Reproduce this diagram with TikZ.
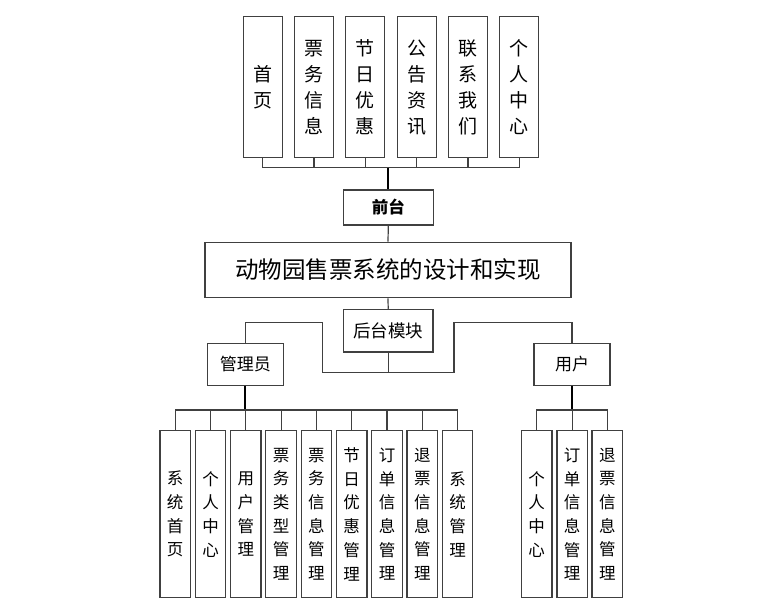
\documentclass[tikz,border=0pt]{standalone}
\usepackage{fontspec}
\setmainfont{Noto Sans CJK SC}
\usepackage{tikz}
\usetikzlibrary{positioning,calc}
\usepackage{xcolor}
\definecolor{edge}{RGB}{64,64,64}

\begin{document}
\begin{tikzpicture}[x=1pt,y=-1pt,
          tall/.style={draw=edge,line width=1.2pt,inner sep=0pt,minimum width=39,minimum height=141,
                       align=center,font=\fontsize{19}{26}\selectfont},
          slim/.style={draw=edge,line width=1.2pt,inner sep=0pt,minimum width=30.5,minimum height=167,
                       align=center,font=\fontsize{16.5}{23.7}\selectfont},
          wide/.style={draw=edge,line width=1.2pt,inner sep=0pt,align=center},
          link/.style={edge,line width=1.2pt},
          trunk/.style={black,line width=1.8pt}
      ]
        \useasboundingbox (0,0) rectangle (766,606);
        % front end
        \node[tall] (sy)   at (262.8,87.2) {首\\页};
        \node[tall] (pwxx) at (314.0,87.2) {票\\务\\信\\息};
        \node[tall] (jryh) at (365.3,87.2) {节\\日\\优\\惠};
        \node[tall] (ggzx) at (416.7,87.2) {公\\告\\资\\讯};
        \node[tall] (lxwm) at (468.0,87.2) {联\\系\\我\\们};
        \node[tall] (grzx) at (519.3,87.2) {个\\人\\中\\心};
        \node[wide,minimum width=90,minimum height=35,font=\fontsize{16.5}{20}\selectfont\bfseries] (qt) at (388.3,207.5) {前台};
        \node[wide,minimum width=366,minimum height=55.4,font=\fontsize{23.5}{28}\selectfont] (title) at (388,270) {动物园售票系统的设计和实现};
        % back end
        \node[wide,minimum width=89.7,minimum height=42.7,font=\fontsize{17.5}{20}\selectfont] (htmk) at (388.2,330.7) {后台模块};
        \node[wide,minimum width=76,minimum height=42,font=\fontsize{17}{20}\selectfont] (gly) at (245.3,364.3) {管理员};
        \node[wide,minimum width=76,minimum height=42,font=\fontsize{17}{20}\selectfont] (yh)  at (572.0,364.3) {用户};
        % admin modules
        \node[slim] (a1) at (175.2,514.2) {系\\统\\首\\页};
        \node[slim] (a2) at (210.5,514.2) {个\\人\\中\\心};
        \node[slim] (a3) at (245.8,514.2) {用\\户\\管\\理};
        \node[slim] (a4) at (281.1,514.2) {票\\务\\类\\型\\管\\理};
        \node[slim] (a5) at (316.4,514.2) {票\\务\\信\\息\\管\\理};
        \node[slim] (a6) at (351.7,514.2) {节\\日\\优\\惠\\管\\理};
        \node[slim] (a7) at (387.0,514.2) {订\\单\\信\\息\\管\\理};
        \node[slim] (a8) at (422.3,514.2) {退\\票\\信\\息\\管\\理};
        \node[slim] (a9) at (457.6,514.2) {系\\统\\管\\理};
        % user modules
        \node[slim] (u1) at (536.7,514.2) {个\\人\\中\\心};
        \node[slim] (u2) at (572.2,514.2) {订\\单\\信\\息\\管\\理};
        \node[slim] (u3) at (607.3,514.2) {退\\票\\信\\息\\管\\理};
        % junctions
        \coordinate (topbus) at (388.3,167.7);
        \coordinate (hbus)   at (388.2,372.7);
        \coordinate (lk)     at (322.7,322.3);
        \coordinate (rk)     at (454.0,322.3);
        \coordinate (abus)   at (245.3,410);
        \coordinate (ubus)   at (572.0,410);
        % connectors
        \draw[link] (sy.south) |- (grzx.south |- topbus) -- (grzx.south);
        \draw[link] (pwxx.south) -- (pwxx.south |- topbus);
        \draw[link] (jryh.south) -- (jryh.south |- topbus);
        \draw[link] (ggzx.south) -- (ggzx.south |- topbus);
        \draw[link] (lxwm.south) -- (lxwm.south |- topbus);
        \draw[trunk] (topbus) -- (qt.north);
        \draw[link] (qt.south) -- (title.north);
        \draw[link] (title.south) -- (htmk.north);
        \draw[link] (htmk.south) -- (hbus);
        \draw[link] (gly.north) |- (lk) |- (hbus);
        \draw[link] (yh.north) |- (rk) |- (hbus);
        \draw[trunk] (gly.south) -- (abus);
        \draw[link] (a1.north) |- (a9.north |- abus) -- (a9.north);
        \draw[link] (a2.north) -- (a2.north |- abus);
        \draw[link] (a3.north) -- (a3.north |- abus);
        \draw[link] (a4.north) -- (a4.north |- abus);
        \draw[link] (a5.north) -- (a5.north |- abus);
        \draw[link] (a6.north) -- (a6.north |- abus);
        \draw[link] (a7.north) -- (a7.north |- abus);
        \draw[link] (a8.north) -- (a8.north |- abus);
        \draw[trunk] (yh.south) -- (ubus);
        \draw[link] (u1.north) |- (u3.north |- ubus) -- (u3.north);
        \draw[link] (u2.north) -- (u2.north |- ubus);
      \end{tikzpicture}
\end{document}
